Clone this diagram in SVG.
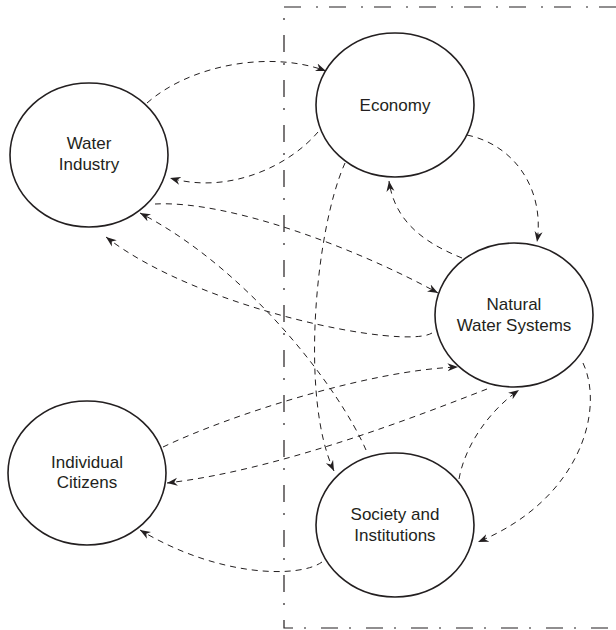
<svg xmlns="http://www.w3.org/2000/svg" width="616" height="630" viewBox="0 0 616 630">
  <style>
    .node { fill: #ffffff; stroke: #231f20; stroke-width: 1.6; }
    .label { font-family: "Liberation Sans", Arial, sans-serif; font-size: 17px; fill: #231f20; text-anchor: middle; }
    .link { fill: none; stroke: #231f20; stroke-width: 1; stroke-dasharray: 6 5; marker-end: url(#arrow); }
    .boundary { fill: none; stroke: #231f20; stroke-width: 1.2; stroke-dasharray: 17 11 2 15; }
  </style>
  <defs>
    <marker id="arrow" markerUnits="userSpaceOnUse" markerWidth="11" markerHeight="9" refX="10.5" refY="4.5" orient="auto">
      <path d="M0,0.5 L10.5,4.5 L0,8.5 L3.2,4.5 Z" fill="#231f20"/>
    </marker>
  </defs>

  <rect width="616" height="630" fill="#ffffff"/>

  <!-- system boundary (open to the right) -->
  <path class="boundary" d="M616,7 H284 V628 H616"/>

  <g id="connectors">
    <path class="link" d="M147,103 C190,65 270,50 326,71"/>
    <path class="link" d="M318,132 C290,165 230,195 170,178"/>
    <path class="link" d="M467,135 C515,145 545,190 537,242"/>
    <path class="link" d="M462,258 C430,245 395,225 389,181"/>
    <path class="link" d="M155,204 C230,200 360,250 438,293"/>
    <path class="link" d="M432,333 C405,350 200,310 106,237"/>
    <path class="link" d="M366,450 C340,390 250,270 140,213"/>
    <path class="link" d="M345,163 C315,230 300,400 334,471"/>
    <path class="link" d="M163,447 C230,415 370,370 458,367"/>
    <path class="link" d="M487,389 C420,415 280,470 167,483"/>
    <path class="link" d="M459,479 C465,445 490,410 519,390"/>
    <path class="link" d="M583,363 C605,410 580,500 478,542"/>
    <path class="link" d="M322,562 C300,578 220,578 140,530"/>
  </g>

  <g id="water-industry">
    <ellipse class="node" cx="89" cy="155" rx="79" ry="72" fill="none"/>
    <text class="label" x="89" y="149">Water</text>
    <text class="label" x="89" y="170">Industry</text>
  </g>

  <g id="economy">
    <ellipse class="node" cx="395" cy="105" rx="79" ry="72"/>
    <text class="label" x="395" y="111">Economy</text>
  </g>

  <g id="natural-water-systems">
    <ellipse class="node" cx="514" cy="315" rx="79" ry="72"/>
    <text class="label" x="514" y="310">Natural</text>
    <text class="label" x="514" y="331">Water Systems</text>
  </g>

  <g id="individual-citizens">
    <ellipse class="node" cx="87" cy="473" rx="79" ry="72"/>
    <text class="label" x="87" y="468">Individual</text>
    <text class="label" x="87" y="488">Citizens</text>
  </g>

  <g id="society-institutions">
    <ellipse class="node" cx="395" cy="525" rx="79" ry="72"/>
    <text class="label" x="395" y="520">Society and</text>
    <text class="label" x="395" y="541">Institutions</text>
  </g>
</svg>
